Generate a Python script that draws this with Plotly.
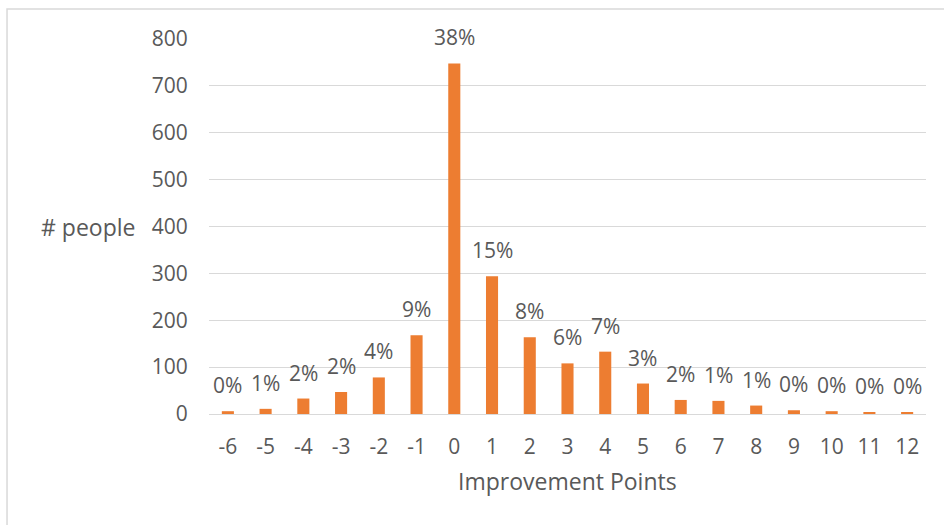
import plotly.graph_objects as go

points = [-6, -5, -4, -3, -2, -1, 0, 1, 2, 3, 4, 5, 6, 7, 8, 9, 10, 11, 12]
people = [6, 11, 33, 47, 78, 168, 748, 294, 164, 108, 133, 65, 30, 28, 18, 8, 6, 4, 4]
pct_labels = ["0%", "1%", "2%", "2%", "4%", "9%", "38%", "15%", "8%", "6%", "7%", "3%",
              "2%", "1%", "1%", "0%", "0%", "0%", "0%"]
y_ticks = [0, 100, 200, 300, 400, 500, 600, 700, 800]

FONT = "Open Sans"
GRAY = "#595959"
FS = 21
FT = 23

fig = go.Figure()
fig.add_trace(go.Bar(
    x=points, y=people, width=0.32,
    marker=dict(color="#ED7D31", line=dict(width=0)),
    hoverinfo="x+y",
))

annotations = []
for p, v, lab in zip(points, people, pct_labels):
    annotations.append(dict(
        x=p, y=v, xref="x", yref="y", text=lab, showarrow=False,
        yanchor="bottom", yshift=10, font=dict(family=FONT, size=FS, color=GRAY),
    ))
annotations.append(dict(
    x=-0.1, y=400, xref="paper", yref="y", text="# people", showarrow=False,
    xanchor="right", yanchor="middle", font=dict(family=FONT, size=FT, color=GRAY),
))
annotations.append(dict(
    x=0.5, y=-0.178, xref="paper", yref="paper", text="Improvement Points", showarrow=False,
    xanchor="center", yanchor="middle", font=dict(family=FONT, size=FT, color=GRAY),
))

fig.update_layout(
    width=944, height=525,
    margin=dict(l=209, r=18, t=39, b=111),
    paper_bgcolor="white", plot_bgcolor="white",
    showlegend=False,
    annotations=annotations,
    font=dict(family=FONT, size=FS, color=GRAY),
    shapes=[dict(type="rect", xref="paper", yref="paper",
                 x0=-0.2817, x1=1.1, y0=-0.4, y1=1.08,
                 line=dict(color="#D9D9D9", width=1.5), fillcolor="rgba(0,0,0,0)",
                 layer="below")],
)
fig.update_xaxes(
    range=[-6.5, 12.5], tickvals=points, ticktext=[str(p) for p in points],
    showgrid=False, showline=False, zeroline=False,
    ticks="outside", ticklen=14, tickcolor="rgba(0,0,0,0)",
    tickfont=dict(family=FONT, size=FS, color=GRAY),
)
fig.update_yaxes(
    range=[0, 800], tickvals=y_ticks, showgrid=True, gridcolor="#D9D9D9", gridwidth=1.3,
    zeroline=True, zerolinecolor="#D9D9D9", zerolinewidth=1.3, showline=False,
    ticks="outside", ticklen=16, tickcolor="rgba(0,0,0,0)",
    tickfont=dict(family=FONT, size=FS, color=GRAY),
)

fig.write_html("out.html")
